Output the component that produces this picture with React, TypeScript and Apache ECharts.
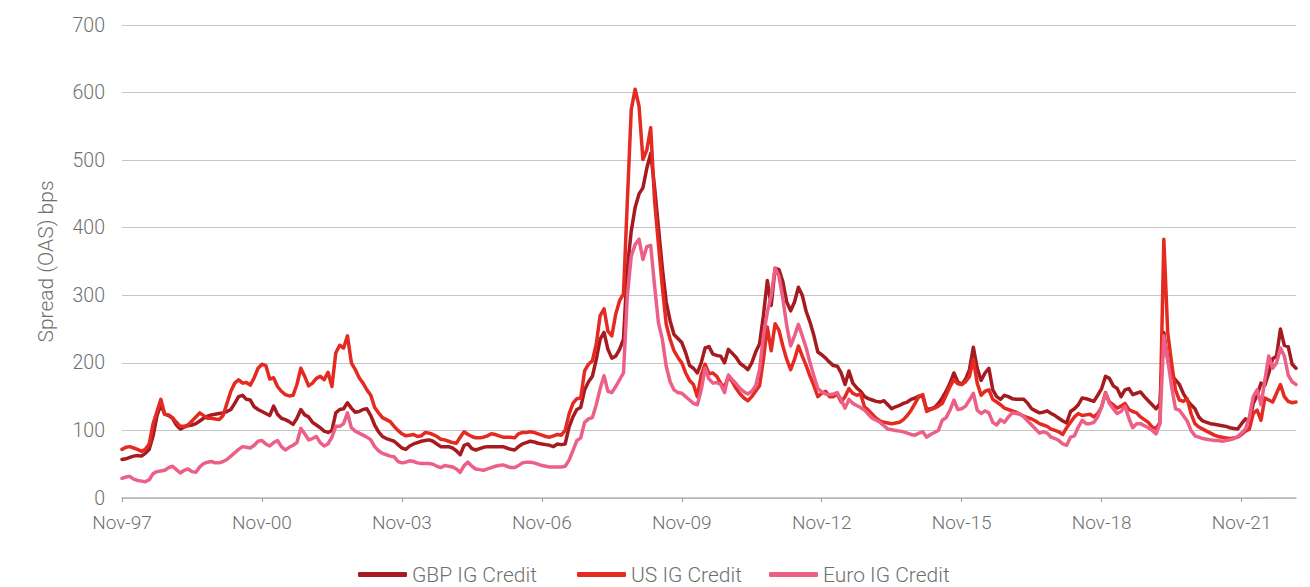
import React, { useEffect, useRef } from "react";
import * as echarts from "echarts";

// Monthly option-adjusted spreads (bps), first point Nov-97.
const START_YEAR = 1997;
const START_MONTH = 10; // 0-based: November

const gbpIG: number[] = [
  57, 58, 60, 62, 63, 62, 66, 72, 92, 122, 138, 124,
  122, 118, 108, 102, 105, 107, 108, 110, 114, 118, 121, 123,
  124, 125, 126, 128, 131, 140, 150, 152, 146, 145, 135, 131,
  128, 125, 122, 136, 124, 118, 116, 113, 109, 118, 131, 123,
  120, 112, 108, 104, 99, 97, 100, 126, 131, 132, 141, 133,
  127, 128, 131, 132, 122, 108, 98, 91, 88, 86, 84, 79,
  74, 72, 77, 80, 82, 84, 85, 86, 84, 80, 76, 76,
  76, 74, 70, 64, 78, 80, 73, 71, 73, 75, 76, 76,
  76, 76, 76, 74, 72, 71, 76, 80, 82, 84, 83, 81,
  80, 79, 78, 76, 80, 79, 80, 105, 120, 131, 134, 160,
  172, 180, 205, 235, 245, 220, 207, 210, 220, 235, 340, 395,
  430, 450, 459, 488, 510, 460, 400, 340, 290, 262, 242, 236,
  230, 215, 196, 192, 185, 200, 222, 224, 213, 211, 210, 200,
  220, 214, 208, 199, 195, 190, 200, 216, 228, 270, 322, 285,
  340, 338, 320, 290, 277, 290, 312, 300, 276, 260, 240, 216,
  212, 207, 201, 196, 195, 185, 168, 188, 170, 163, 158, 150,
  147, 145, 143, 142, 144, 138, 132, 135, 137, 140, 142, 146,
  148, 151, 150, 131, 132, 134, 140, 148, 158, 170, 185, 172,
  168, 176, 190, 223, 192, 174, 185, 192, 160, 150, 146, 152,
  150, 147, 146, 146, 146, 140, 132, 129, 126, 127, 129, 125,
  122, 118, 114, 111, 128, 132, 138, 148, 147, 145, 143, 152,
  162, 180, 177, 166, 162, 150, 160, 162, 153, 155, 157, 150,
  144, 138, 132, 140, 245, 205, 182, 175, 168, 155, 145, 138,
  132, 120, 114, 112, 110, 109, 108, 107, 106, 104, 103, 102,
  110, 117, 112, 140, 152, 170, 167, 185, 206, 210, 250, 226,
  224, 198, 192,
];

const usIG: number[] = [
  72, 75, 76, 74, 72, 69, 72, 80, 110, 128, 146, 124,
  123, 119, 112, 106, 106, 108, 114, 120, 126, 122, 118, 118,
  117, 116, 122, 140, 158, 170, 175, 170, 171, 167, 178, 192,
  198, 196, 176, 178, 165, 158, 153, 151, 152, 168, 192, 180,
  166, 170, 177, 180, 175, 186, 165, 215, 226, 222, 240, 200,
  190, 178, 170, 160, 152, 134, 126, 119, 116, 113, 106, 100,
  95, 92, 93, 94, 91, 92, 97, 96, 94, 91, 87, 86,
  84, 82, 81, 90, 98, 94, 91, 89, 89, 90, 92, 95,
  94, 92, 90, 90, 90, 89, 95, 97, 97, 98, 97, 95,
  93, 91, 90, 92, 94, 93, 100, 124, 140, 147, 148, 188,
  198, 203, 228, 270, 280, 247, 240, 272, 292, 302, 440, 575,
  605, 580, 501, 515, 548, 440, 375, 312, 257, 235, 218, 208,
  200, 185, 174, 168, 150, 182, 198, 184, 185, 180, 170, 164,
  180, 172, 162, 154, 148, 144, 150, 158, 166, 205, 253, 218,
  258, 248, 225, 205, 190, 205, 225, 210, 196, 180, 166, 150,
  155, 158, 150, 150, 154, 142, 150, 162, 155, 152, 154, 135,
  130, 124, 118, 114, 112, 111, 110, 111, 112, 116, 122, 130,
  140, 150, 153, 128, 131, 133, 136, 140, 152, 165, 175, 169,
  168, 172, 180, 205, 170, 152, 158, 160, 146, 142, 138, 133,
  131, 129, 127, 124, 121, 119, 117, 114, 110, 108, 106, 102,
  100, 98, 94, 104, 112, 120, 125, 122, 123, 124, 120, 125,
  135, 156, 142, 138, 133, 136, 140, 131, 128, 126, 120, 116,
  112, 105, 103, 112, 383, 245, 200, 160, 145, 143, 147, 125,
  110, 105, 102, 99, 96, 93, 91, 90, 89, 88, 89, 90,
  94, 99, 102, 125, 130, 115, 148, 145, 142, 155, 168, 150,
  143, 141, 142,
];

const euroIG: number[] = [
  29, 31, 32, 28, 26, 25, 24, 27, 36, 39, 40, 41,
  45, 47, 42, 37, 41, 43, 39, 38, 46, 51, 53, 54,
  52, 52, 54, 57, 62, 67, 72, 76, 75, 74, 78, 84,
  85, 80, 77, 82, 85, 76, 71, 75, 78, 82, 103, 95,
  86, 88, 91, 82, 77, 80, 90, 106, 106, 110, 126, 104,
  99, 96, 93, 90, 86, 76, 70, 66, 64, 62, 61, 54,
  52, 53, 55, 54, 52, 51, 51, 51, 50, 47, 45, 48,
  47, 46, 43, 38, 48, 53, 47, 43, 42, 41, 43, 45,
  47, 48, 49, 47, 45, 45, 48, 52, 53, 53, 52, 50,
  48, 47, 46, 46, 46, 46, 47, 56, 70, 85, 89, 112,
  117, 119, 138, 162, 181, 158, 156, 165, 175, 185, 300, 358,
  375, 383, 353, 372, 374, 314, 259, 235, 195, 172, 160, 156,
  155, 150, 145, 140, 138, 160, 192, 176, 170, 171, 168, 156,
  182, 175, 169, 162, 157, 154, 158, 166, 190, 240, 275, 300,
  340, 328, 295, 255, 225, 240, 257, 240, 222, 200, 180, 162,
  157, 154, 153, 154, 156, 145, 133, 146, 140, 137, 134, 130,
  124, 118, 115, 112, 107, 102, 101, 100, 99, 98, 96, 94,
  93, 96, 98, 90, 94, 97, 100, 115, 119, 130, 145, 131,
  132, 136, 145, 155, 130, 125, 129, 126, 112, 108, 116, 112,
  120, 126, 125, 124, 120, 114, 108, 102, 96, 98, 96, 90,
  88, 85, 80, 78, 90, 92, 105, 115, 110, 110, 112, 120,
  135, 155, 140, 132, 125, 128, 136, 118, 104, 110, 110, 107,
  104, 100, 95, 110, 240, 205, 165, 132, 130, 122, 114, 100,
  92, 90, 88, 87, 86, 85, 85, 84, 85, 86, 88, 91,
  96, 102, 120, 150, 160, 138, 175, 210, 192, 200, 222, 210,
  182, 172, 168,
];

const seriesNames = ["GBP IG Credit", "US IG Credit", "Euro IG Credit"];
const seriesColors = ["#A61B1F", "#E42A21", "#EC6088"];
const yTicks = [0, 100, 200, 300, 400, 500, 600, 700];
const MONTH_ABBR = ["Jan", "Feb", "Mar", "Apr", "May", "Jun", "Jul", "Aug", "Sep", "Oct", "Nov", "Dec"];
const LABEL_EVERY = 36; // one axis label every three years

function monthLabels(count: number): string[] {
  const out: string[] = [];
  for (let i = 0; i < count; i++) {
    const total = START_MONTH + i;
    const y = START_YEAR + Math.floor(total / 12);
    const m = total % 12;
    out.push(`${MONTH_ABBR[m]}-${String(y % 100).padStart(2, "0")}`);
  }
  return out;
}

const FONT = "Roboto, 'Noto Sans', sans-serif";
const TEXT_COLOR = "#6f6f6f";

export default function App() {
  const ref = useRef<HTMLDivElement>(null);

  useEffect(() => {
    document.body.style.margin = "0";
    if (!ref.current) return;
    const chart = echarts.init(ref.current, undefined, { renderer: "svg" });
    const categories = monthLabels(gbpIG.length);
    const dataSets = [gbpIG, usIG, euroIG];
    const legendLefts = [358, 577, 769];

    chart.setOption({
      animation: false,
      backgroundColor: "#ffffff",
      textStyle: { fontFamily: FONT },
      grid: { left: 122, right: 14, top: 25, bottom: 89 },
      legend: seriesNames.map((name, i) => ({
        data: [name],
        left: legendLefts[i],
        top: 564,
        padding: 0,
        icon: "roundRect",
        itemWidth: 49,
        itemHeight: 5,
        textStyle: { fontSize: 21, color: TEXT_COLOR, fontFamily: FONT, fontWeight: 300 },
      })),
      xAxis: {
        type: "category",
        data: categories,
        boundaryGap: false,
        axisLine: { lineStyle: { color: "#b5b5b5", width: 1.5 } },
        axisTick: {
          show: true,
          interval: LABEL_EVERY - 1,
          length: 4,
          lineStyle: { color: "#9a9a9a" },
        },
        axisLabel: {
          interval: LABEL_EVERY - 1,
          margin: 15,
          fontSize: 19,
          color: TEXT_COLOR,
          fontFamily: FONT,
          fontWeight: 300,
        },
        splitLine: { show: false },
      },
      yAxis: {
        type: "value",
        min: yTicks[0],
        max: yTicks[yTicks.length - 1],
        interval: 100,
        name: "Spread (OAS) bps",
        nameLocation: "middle",
        nameGap: 66,
        nameTextStyle: { fontSize: 21, color: TEXT_COLOR, fontFamily: FONT, fontWeight: 300 },
        axisLine: { show: false },
        axisTick: { show: false },
        axisLabel: { margin: 17, fontSize: 19.5, color: TEXT_COLOR, fontFamily: FONT, fontWeight: 300 },
        splitLine: { lineStyle: { color: "#c4c4c4", width: 1 } },
      },
      series: seriesNames.map((name, i) => ({
        name,
        type: "line",
        data: dataSets[i],
        symbol: "none",
        color: seriesColors[i],
        lineStyle: { width: 3.5, color: seriesColors[i], join: "round", cap: "round" },
      })),
    });

    return () => chart.dispose();
  }, []);

  return <div ref={ref} style={{ width: 1310, height: 587 }} />;
}
